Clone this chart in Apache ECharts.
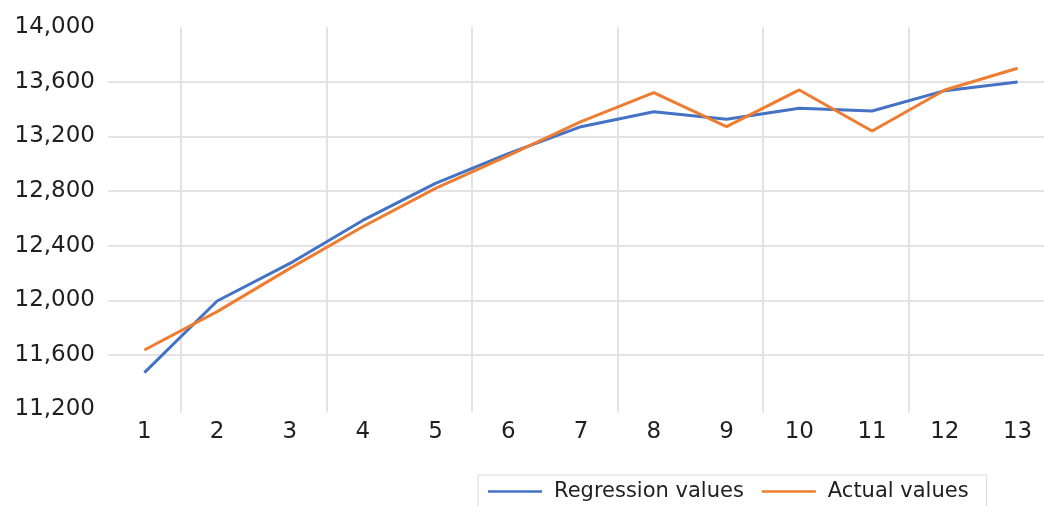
<!DOCTYPE html>
<html>
<head>
<meta charset="utf-8">
<script src="https://cdn.jsdelivr.net/npm/echarts@6/dist/echarts.min.js"></script>
<style>
  html, body { margin: 0; padding: 0; background: #fff; }
  #chart { width: 1044px; height: 506px; }
</style>
</head>
<body>
<div id="chart"></div>
<script>
const categories = ['1', '2', '3', '4', '5', '6', '7', '8', '9', '10', '11', '12', '13']
const regression = [11470, 11995, 12270, 12585, 12857, 13075, 13272, 13382, 13326, 13407, 13387, 13536, 13599]
const actual = [11636, 11917, 12234, 12539, 12820, 13060, 13309, 13521, 13272, 13541, 13240, 13541, 13700]

const chart = echarts.init(document.getElementById('chart'))
const labelFont = { fontFamily: 'DejaVu Sans', fontSize: 23, color: '#1f1f1f' }
const gridColor = '#e3e3e3'

chart.setOption({
  animation: false,
  grid: {
    left: 108, width: 946, top: 27.3, height: 382.2,
    containLabel: false, outerBoundsMode: 'none'
  },
  xAxis: {
    type: 'category',
    data: categories,
    boundaryGap: true,
    axisLine: { show: false },
    axisTick: {
      show: true,
      length: 3,
      interval: (i) => i % 2 === 1,
      lineStyle: { color: gridColor, width: 2 }
    },
    axisLabel: { ...labelFont, margin: 11, interval: 0 },
    splitLine: {
      show: true,
      interval: (i) => i % 2 === 1,
      lineStyle: { color: gridColor, width: 2 }
    }
  },
  yAxis: {
    type: 'value',
    min: 11200,
    max: 14000,
    interval: 400,
    axisLine: { show: false },
    axisTick: { show: false },
    axisLabel: {
      ...labelFont,
      margin: 13,
      formatter: (v) => v.toLocaleString('en-US')
    },
    splitLine: {
      show: true,
      showMinLine: false,
      showMaxLine: false,
      lineStyle: { color: gridColor, width: 2 }
    }
  },
  legend: {
    left: 478,
    top: 475,
    padding: [6, 18, 10, 10],
    borderColor: '#d9d9d9',
    borderWidth: 1,
    icon: 'rect',
    itemWidth: 54,
    itemHeight: 2.5,
    itemGap: 18,
    textStyle: { fontFamily: 'DejaVu Sans', fontSize: 21, color: '#1f1f1f', padding: [0, 0, 0, 7] },
    data: ['Regression values', 'Actual values']
  },
  series: [
    {
      name: 'Regression values',
      type: 'line',
      data: regression,
      symbol: 'none',
      lineStyle: { color: '#4472C4', width: 3 },
      itemStyle: { color: '#4472C4' }
    },
    {
      name: 'Actual values',
      type: 'line',
      data: actual,
      symbol: 'none',
      lineStyle: { color: '#ED7D31', width: 3 },
      itemStyle: { color: '#ED7D31' }
    }
  ]
})
</script>
</body>
</html>
